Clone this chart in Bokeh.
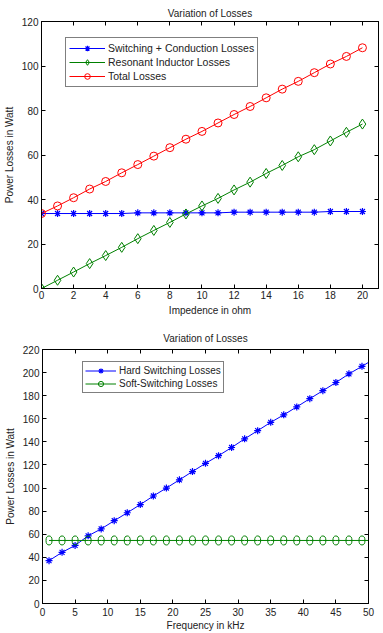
from bokeh.plotting import figure
from bokeh.models import LinearAxis, FixedTicker, Legend, LegendItem, Range1d, Title
from bokeh.embed import file_html
from bokeh.resources import INLINE

# ---------------- Top chart data ----------------
impedance_ohm = [0, 1, 2, 3, 4, 5, 6, 7, 8, 9, 10, 11, 12, 13, 14, 15, 16, 17, 18, 19, 20]
sw_cond_losses = [33.7, 33.7, 33.7, 33.7, 33.7, 33.7, 34.0, 34.0, 34.0, 34.0, 34.0,
                  34.0, 34.3, 34.3, 34.3, 34.3, 34.3, 34.3, 34.6, 34.6, 34.6]
resonant_losses = [0.0, 3.7, 7.4, 11.2, 14.8, 18.5, 22.4, 26.1, 29.7, 33.5, 37.1,
                   40.5, 44.3, 47.8, 51.7, 55.3, 59.2, 62.4, 66.3, 70.2, 73.9]
total_losses = [33.7, 37.1, 40.8, 44.7, 48.1, 52.0, 55.7, 59.5, 63.3, 67.1, 70.6,
                74.4, 78.2, 81.8, 85.7, 89.6, 93.1, 97.0, 100.9, 104.3, 108.2]
top_xticks = [0, 2, 4, 6, 8, 10, 12, 14, 16, 18, 20]
top_yticks = [0, 20, 40, 60, 80, 100, 120]

# ---------------- Bottom chart data ----------------
frequency_khz = [1, 3, 5, 7, 9, 11, 13, 15, 17, 19, 21, 23, 25, 27, 29, 31, 33, 35,
                 37, 39, 41, 43, 45, 47, 49, 51]
hard_losses = [37.1, 44.3, 50.3, 58.6, 64.6, 71.7, 78.6, 85.7, 93.1, 100.0, 107.1,
               114.3, 121.4, 128.0, 135.1, 142.6, 149.7, 156.9, 163.4, 170.3, 177.4,
               184.3, 191.4, 198.9, 205.4, 212.3]
soft_losses = [54.6, 54.6, 54.6, 54.6, 54.6, 54.6, 54.6, 54.6, 54.6, 54.6, 54.6,
               54.6, 54.6, 54.6, 54.6, 54.6, 54.6, 54.6, 54.6, 54.6, 54.6, 54.6,
               54.6, 54.6, 54.6, 54.6]
bot_xticks = [0, 5, 10, 15, 20, 25, 30, 35, 40, 45, 50]
bot_yticks = [0, 20, 40, 60, 80, 100, 120, 140, 160, 180, 200, 220]

FONT = "Liberation Sans"
TXT = "#222222"
BLUE = "#0000ff"
GREEN = "#008000"
RED = "#ff0000"


def style_title(t, standoff):
    t.align = "center"
    t.text_font = FONT
    t.text_font_size = "10px"
    t.text_font_style = "normal"
    t.text_color = TXT
    t.standoff = standoff


def style(p, xticks, yticks, xl_standoff, xlab_standoff):
    p.outline_line_color = "black"
    p.xgrid.visible = False
    p.ygrid.visible = False
    for ax, ticks in ((p.xaxis[0], xticks), (p.yaxis[0], yticks)):
        ax.ticker = FixedTicker(ticks=ticks)
        ax.minor_tick_line_color = None
        ax.major_tick_in = 4
        ax.major_tick_out = 0
        ax.axis_line_color = "black"
        ax.major_tick_line_color = "black"
        ax.major_label_text_font = FONT
        ax.major_label_text_font_size = "10px"
        ax.major_label_text_color = TXT
        ax.axis_label_text_font = FONT
        ax.axis_label_text_font_size = "10px"
        ax.axis_label_text_font_style = "normal"
        ax.axis_label_text_color = TXT
    p.xaxis[0].major_label_standoff = xl_standoff
    p.xaxis[0].axis_label_standoff = xlab_standoff
    p.yaxis[0].major_label_standoff = 3
    p.yaxis[0].axis_label_standoff = 4
    for loc, ticks in (("above", xticks), ("right", yticks)):
        ax = LinearAxis(ticker=FixedTicker(ticks=ticks),
                        major_label_text_font_size="1px",
                        major_label_text_color=None,
                        major_label_standoff=0,
                        major_tick_in=4, major_tick_out=0,
                        minor_tick_line_color=None,
                        axis_line_color="black")
        p.add_layout(ax, loc)


def legend(items, loc, font_size, glyph_width, padding, row_h):
    lg = Legend(items=items, location=loc)
    lg.border_line_color = "black"
    lg.border_line_width = 1
    lg.background_fill_color = "white"
    lg.background_fill_alpha = 1
    lg.label_text_font = FONT
    lg.label_text_font_size = font_size
    lg.label_text_color = TXT
    lg.glyph_width = glyph_width
    lg.glyph_height = row_h
    lg.label_height = row_h
    lg.spacing = 0
    lg.padding = padding
    lg.margin = 0
    lg.label_standoff = 3
    return lg


# ---------------- Top figure ----------------
p1 = figure(width=383, height=318, output_backend="svg", toolbar_location=None,
            x_range=Range1d(0, 21), y_range=Range1d(0, 120),
            min_border_left=38, min_border_right=5, min_border_top=21,
            min_border_bottom=29)
p1.xaxis.axis_label = "Impedence in ohm"
p1.yaxis.axis_label = "Power Losses in Watt"
style(p1, top_xticks, top_yticks, 2, 3)
t1 = Title(text="Variation of Losses")
style_title(t1, 6)
p1.add_layout(t1, "above")

l_sw = p1.line(impedance_ohm, sw_cond_losses, line_color=BLUE, line_width=1)
m_sw = p1.scatter(impedance_ohm, sw_cond_losses, marker="asterisk", size=7,
                  line_color=BLUE, line_width=1.2)
l_rs = p1.line(impedance_ohm, resonant_losses, line_color=GREEN, line_width=1)
m_rs = p1.scatter(impedance_ohm, resonant_losses, marker="diamond", size=10,
                  line_color=GREEN, fill_color=None, line_width=1)
l_tt = p1.line(impedance_ohm, total_losses, line_color=RED, line_width=1)
m_tt = p1.scatter(impedance_ohm, total_losses, marker="circle", size=8,
                  line_color=RED, fill_color=None, line_width=1)

p1.add_layout(legend([
    LegendItem(label="Switching + Conduction Losses", renderers=[l_sw, m_sw]),
    LegendItem(label="Resonant Inductor Losses", renderers=[l_rs, m_rs]),
    LegendItem(label="Total Losses", renderers=[l_tt, m_tt]),
], (24, 201), "10.5px", 36, 3, 14))

# ---------------- Bottom figure ----------------
p2 = figure(width=383, height=315, output_backend="svg", toolbar_location=None,
            x_range=Range1d(0, 50), y_range=Range1d(0, 220),
            title="Variation of Losses",
            min_border_left=42, min_border_right=15, min_border_top=31,
            min_border_bottom=27)
p2.xaxis.axis_label = "Frequency in kHz"
p2.yaxis.axis_label = "Power Losses in Watt"
style_title(p2.title, 11)
style(p2, bot_xticks, bot_yticks, 4, 1)

l_hd = p2.line(frequency_khz, hard_losses, line_color=BLUE, line_width=1)
m_hd = p2.scatter(frequency_khz, hard_losses, marker="asterisk", size=7,
                  line_color=BLUE, line_width=1.2)
l_sf = p2.line(frequency_khz, soft_losses, line_color=GREEN, line_width=1)
m_sf = p2.ellipse(frequency_khz, soft_losses, width=6, height=9,
                  width_units="screen", height_units="screen",
                  line_color=GREEN, fill_color=None, line_width=1)
# legend-only marker: same points, hidden in the plot itself
k_sf = p2.scatter(frequency_khz, soft_losses, marker="circle", size=6,
                  line_color=GREEN, fill_color=None, line_width=1, visible=False)

p2.add_layout(legend([
    LegendItem(label="Hard Switching Losses", renderers=[l_hd, m_hd]),
    LegendItem(label="Soft-Switching Losses", renderers=[l_sf, k_sf]),
], (40, 210), "10px", 31, 2, 13))

# two independent roots stacked on the page (no cross-plot frame alignment)
open("out.html", "w").write(file_html([p1, p2], INLINE))
